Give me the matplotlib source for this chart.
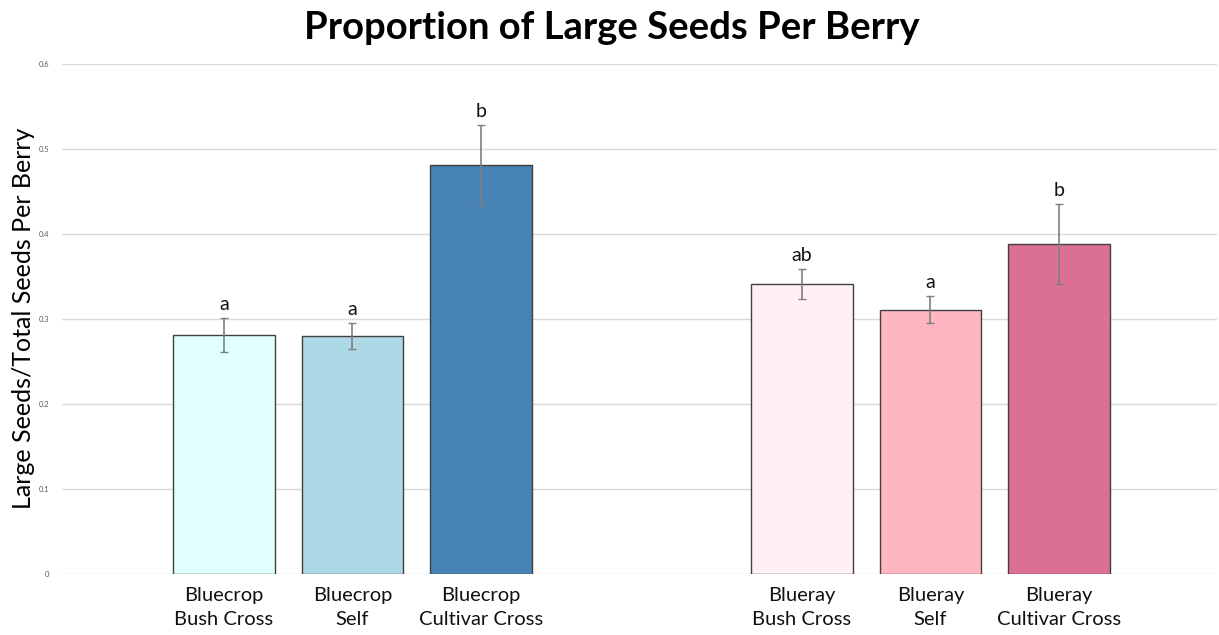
import matplotlib
matplotlib.use("Agg")
import matplotlib.pyplot as plt
import numpy as np

plt.rcParams['font.family'] = ['Lato', 'DejaVu Sans']

categories = ["Bluecrop\nBush Cross", "Bluecrop\nSelf", "Bluecrop\nCultivar Cross",
              "Blueray\nBush Cross", "Blueray\nSelf", "Blueray\nCultivar Cross"]
values = [0.281, 0.280, 0.481, 0.341, 0.311, 0.388]
errors = [0.020, 0.015, 0.047, 0.018, 0.016, 0.047]
letters = ["a", "a", "b", "ab", "a", "b"]
colors = ["#E0FFFF", "#ADD8E6", "#4682B4", "#FFF0F5", "#FFB6C1", "#DB7093"]
yticks = [0, 0.1, 0.2, 0.3, 0.4, 0.5, 0.6]
ytick_labels = ["0", "0.1", "0.2", "0.3", "0.4", "0.5", "0.6"]

positions = [0, 1, 2, 4.5, 5.5, 6.5]

fig = plt.figure(figsize=(12.19, 6.35), dpi=100)
ax = fig.add_axes([62/1219, 1 - 574/635, (1217-62)/1219, (574-64)/635])

ax.bar(positions, values, width=0.79, color=colors, edgecolor="#404040", linewidth=1.0, zorder=3)
ax.errorbar(positions, values, yerr=errors, fmt="none", ecolor="#7f7f7f",
            elinewidth=1.2, capsize=3, capthick=1.0, zorder=4)
for p, v, e, l in zip(positions, values, errors, letters):
    ax.text(p, v + e + 0.006, l, ha="center", va="bottom", fontsize=14, color="#111111")

ax.set_ylim(0, 0.6)
ax.set_xlim(-1.26, 7.73)
ax.set_yticks(yticks)
ax.set_yticklabels(ytick_labels, fontsize=5.5, color="#595959")
ax.tick_params(axis="y", length=0, pad=9)
ax.tick_params(axis="x", length=0, pad=9)
ax.set_xticks(positions)
ax.set_xticklabels(categories, fontsize=14.5, color="#111111", linespacing=1.55)
ax.yaxis.grid(True, color="#d9d9d9", linewidth=1.0, zorder=0)
for s in ax.spines.values():
    s.set_visible(False)

ax.set_ylabel("Large Seeds/Total Seeds Per Berry", fontsize=18, color="#000000")
ax.yaxis.set_label_coords((35 - 62) / 1155, (574 - 318) / 510)
fig.text(612/1219, 1 - 28/635, "Proportion of Large Seeds Per Berry", ha="center", va="center",
         fontsize=27.5, fontweight="bold", color="#000000")

fig.savefig("out.png", dpi=100, facecolor="white")
